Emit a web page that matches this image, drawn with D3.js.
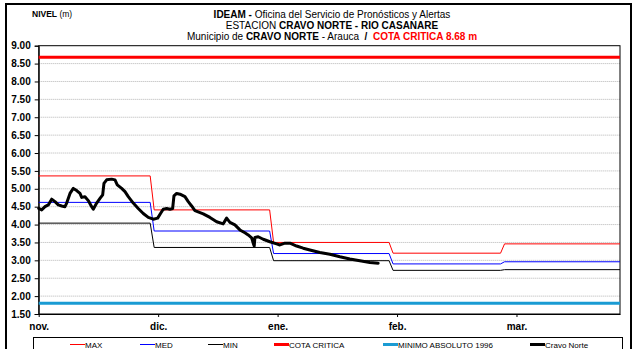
<!DOCTYPE html>
<html>
<head>
<meta charset="utf-8">
<script src="https://cdn.jsdelivr.net/npm/d3@7"></script>
<style>
  html, body { margin: 0; padding: 0; background: #fff; }
  svg { display: block; font-family: Arial, "Liberation Sans", sans-serif; }
</style>
</head>
<body>
<svg id="chart" width="639" height="349"></svg>
<script>
// Month labels and the day index where each tick sits
const monthLabels = ["nov.", "dic.", "ene.", "feb.", "mar."];
const monthTickDays = [0, 30, 60, 90, 120];
const lastDay = 146;

// Historical monthly levels (m): first day of each month block and its value
const monthStartDays = [0, 29, 59, 89, 117];
const maxLevels = [5.36, 4.41, 3.50, 3.20, 3.46];
const medLevels = [4.62, 3.82, 3.19, 2.90, 2.96];
const minLevels = [4.04, 3.36, 2.99, 2.72, 2.74];

// Reference levels (m)
const cotaCritica = 8.68;
const minimoAbsoluto = 1.80;

// Observed stage at Cravo Norte: reading day (from 1 Nov) and level (m)
const readingDays = [0, 0.75, 1.58, 2.41, 3.26, 4.09, 4.92, 5.77, 6.6, 7.03, 7.86, 8.69, 9.54, 10.37, 10.8,
  11.62, 12.45, 13.3, 13.71, 14.56, 15.39, 16.07, 16.39, 17.07, 18.33, 19.16, 19.73, 20.84, 21.67, 22.5,
  23.75, 25.0, 26.26, 27.52, 28.77, 29.88, 30.71, 31.28, 32.14, 32.97, 33.64, 33.97, 34.65, 35.48, 36.73,
  37.56, 38.41, 39.24, 41.33, 43.01, 44.69, 46.35, 47.2, 48.03, 49.28, 50.54, 51.79, 52.62, 53.48, 53.88,
  54.13, 54.3, 55.13, 56.39, 58.07, 59.75, 60.58, 61.84, 63.1, 64.78, 66.43, 68.11, 70.62, 73.13, 75.65,
  78.16, 80.67, 83.18, 85.26];
const readingLevels = [4.45, 4.41, 4.50, 4.55, 4.71, 4.64, 4.55, 4.52, 4.50, 4.60, 4.87, 5.01, 4.95, 4.87, 4.76,
  4.78, 4.67, 4.50, 4.43, 4.60, 4.73, 4.83, 5.15, 5.25, 5.27, 5.25, 5.11, 5.01, 4.92, 4.78,
  4.60, 4.45, 4.31, 4.20, 4.15, 4.18, 4.33, 4.43, 4.45, 4.43, 4.45, 4.80, 4.87, 4.85, 4.78,
  4.64, 4.52, 4.39, 4.30, 4.20, 4.08, 4.02, 4.18, 4.06, 3.99, 3.85, 3.77, 3.71, 3.63, 3.48,
  3.40, 3.64, 3.66, 3.59, 3.52, 3.46, 3.43, 3.48, 3.48, 3.40, 3.34, 3.29, 3.22, 3.17, 3.10,
  3.04, 2.99, 2.94, 2.92];

// Y axis ticks
const levelTicks = [1.5, 2, 2.5, 3, 3.5, 4, 4.5, 5, 5.5, 6, 6.5, 7, 7.5, 8, 8.5, 9];

const svg = d3.select("#chart");
const plot = { left: 38.7, right: 620, top: 45.7, bottom: 314 };

const x = d3.scaleLinear().domain([0, lastDay]).range([plot.left, plot.right]);
const y = d3.scaleLinear().domain([1.5, 9]).range([plot.bottom, plot.top]);

// Outer frame
svg.append("rect").attr("x", 6).attr("y", 4).attr("width", 625).attr("height", 360)
  .attr("fill", "none").attr("stroke", "#000").attr("stroke-width", 2);

// Header texts
svg.append("text").attr("x", 32).attr("y", 17).attr("font-size", 8.5)
  .call(t => {
    t.append("tspan").attr("font-weight", "bold").text("NIVEL");
    t.append("tspan").text(" (m)");
  });

const titleX = 332;
svg.append("text").attr("x", titleX).attr("y", 17.5).attr("font-size", 10).attr("text-anchor", "middle")
  .call(t => {
    t.append("tspan").attr("font-weight", "bold").text("IDEAM - ");
    t.append("tspan").text("Oficina del Servicio de Pronósticos y Alertas");
  });
svg.append("text").attr("x", titleX).attr("y", 28.5).attr("font-size", 10).attr("text-anchor", "middle")
  .call(t => {
    t.append("tspan").text("ESTACION ");
    t.append("tspan").attr("font-weight", "bold").text("CRAVO NORTE - RIO CASANARE");
  });
svg.append("text").attr("x", titleX).attr("y", 39.5).attr("font-size", 10).attr("text-anchor", "middle")
  .call(t => {
    t.append("tspan").text("Municipio de ");
    t.append("tspan").attr("font-weight", "bold").text("CRAVO NORTE");
    t.append("tspan").text(" - Arauca\u00a0\u00a0");
    t.append("tspan").attr("font-weight", "bold").text("/\u00a0\u00a0");
    t.append("tspan").attr("font-weight", "bold").attr("fill", "#ff0000").text("COTA CRITICA " + cotaCritica.toFixed(2) + " m");
  });

// Horizontal dotted gridlines
svg.append("g").selectAll("line")
  .data(levelTicks.filter(v => v > 1.5 && v < 9))
  .join("line")
  .attr("x1", plot.left).attr("x2", plot.right)
  .attr("y1", d => y(d)).attr("y2", d => y(d))
  .attr("stroke", "#b4b4b4").attr("stroke-width", 1).attr("stroke-dasharray", "1,1");

// Y axis
const yAxis = d3.axisLeft(y).tickValues(levelTicks).tickFormat(d3.format(".2f")).tickSize(4).tickPadding(4);
svg.append("g").attr("transform", `translate(${plot.left},0)`).call(yAxis)
  .call(g => g.selectAll("text").attr("font-size", 10).attr("font-weight", "bold").attr("fill", "#000")
    .attr("font-family", "Arial, 'Liberation Sans', sans-serif"))
  .call(g => g.selectAll("line,path").attr("stroke", "#000"));

// X axis
const xAxis = d3.axisBottom(x).tickValues(monthTickDays).tickFormat((d, i) => monthLabels[i]).tickSize(3).tickSizeOuter(0).tickPadding(6);
svg.append("g").attr("transform", `translate(0,${plot.bottom})`).call(xAxis)
  .call(g => g.selectAll("text").attr("font-size", 10).attr("font-weight", "bold").attr("fill", "#000")
    .attr("font-family", "Arial, 'Liberation Sans', sans-serif"))
  .call(g => g.selectAll("line,path").attr("stroke", "#000"));

// Plot frame
svg.append("rect").attr("x", plot.left).attr("y", plot.top)
  .attr("width", plot.right - plot.left).attr("height", plot.bottom - plot.top)
  .attr("fill", "none").attr("stroke", "#000").attr("stroke-width", 1);

const line = d3.line().x(d => x(d[0])).y(d => y(d[1]));

// Build the step profile of a monthly series
function monthlySteps(levels) {
  const pts = [];
  levels.forEach((v, i) => {
    const start = monthStartDays[i];
    const end = i < levels.length - 1 ? monthStartDays[i + 1] - 1 : lastDay;
    pts.push([start, v], [end, v]);
  });
  return pts;
}

const g = svg.append("g");
g.append("path").attr("d", line([[0, cotaCritica], [lastDay, cotaCritica]]))
  .attr("fill", "none").attr("stroke", "#ff0000").attr("stroke-width", 3);
g.append("path").attr("d", line([[0, minimoAbsoluto], [lastDay, minimoAbsoluto]]))
  .attr("fill", "none").attr("stroke", "#1a9bd3").attr("stroke-width", 3);
g.append("path").attr("d", line(monthlySteps(minLevels)))
  .attr("fill", "none").attr("stroke", "#000").attr("stroke-width", 1);
g.append("path").attr("d", line(monthlySteps(medLevels)))
  .attr("fill", "none").attr("stroke", "#0000ff").attr("stroke-width", 1);
g.append("path").attr("d", line(monthlySteps(maxLevels)))
  .attr("fill", "none").attr("stroke", "#ff0000").attr("stroke-width", 1);

const observed = readingDays.map((d, i) => [d, readingLevels[i]]);
g.append("path").attr("d", line(observed))
  .attr("fill", "none").attr("stroke", "#000").attr("stroke-width", 3)
  .attr("stroke-linejoin", "round").attr("stroke-linecap", "round");

// Legend
const legendItems = [
  { name: "MAX", color: "#ff0000", width: 1, x: 70 },
  { name: "MED", color: "#0000ff", width: 1, x: 140 },
  { name: "MIN", color: "#000000", width: 1, x: 208 },
  { name: "COTA CRITICA", color: "#ff0000", width: 3, x: 274 },
  { name: "MINIMO ABSOLUTO 1996", color: "#1a9bd3", width: 3, x: 383 },
  { name: "Cravo Norte", color: "#000000", width: 3, x: 530 }
];
svg.append("rect").attr("x", 33.5).attr("y", 337.5).attr("width", 589).attr("height", 20)
  .attr("fill", "#fff").attr("stroke", "#000").attr("stroke-width", 1);
const leg = svg.append("g").selectAll("g").data(legendItems).join("g")
  .attr("transform", d => `translate(${d.x},344.5)`);
leg.append("line").attr("x1", 0).attr("x2", 15).attr("y1", 0).attr("y2", 0)
  .attr("stroke", d => d.color).attr("stroke-width", d => d.width);
leg.append("text").attr("x", 15).attr("y", 3).attr("font-size", 8).attr("fill", "#000")
  .text(d => d.name);
</script>
</body>
</html>
